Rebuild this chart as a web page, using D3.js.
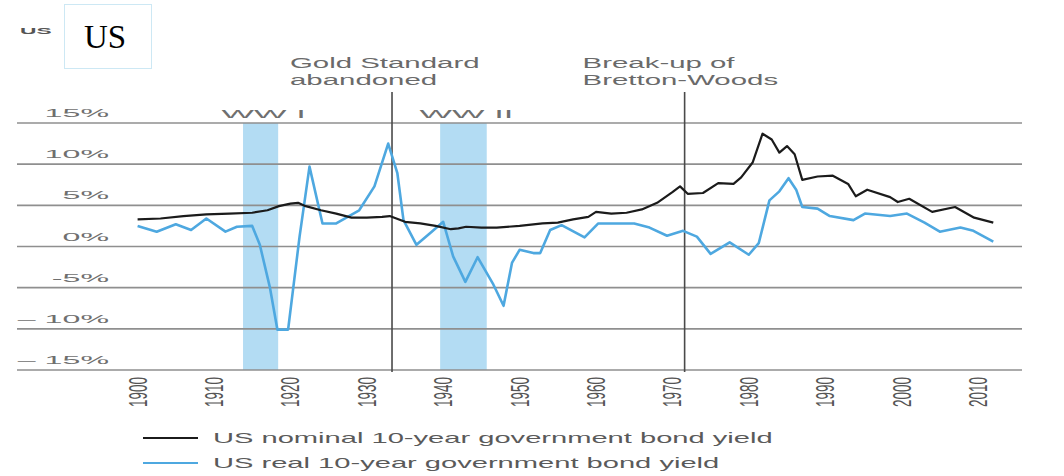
<!DOCTYPE html>
<html>
<head>
<meta charset="utf-8">
<script src="https://cdnjs.cloudflare.com/ajax/libs/d3/7.8.5/d3.min.js"></script>
<style>
  html, body { margin: 0; padding: 0; background: #fff; }
  svg { display: block; }
  text { font-family: "Liberation Sans", Arial, sans-serif; }
</style>
</head>
<body>
<svg id="chart" width="1064" height="476"></svg>
<script>
// ---- data -------------------------------------------------------------
const nominalYears = [1900, 1903, 1906, 1909, 1912, 1915, 1917, 1918.5, 1920, 1921, 1922, 1924, 1926, 1928, 1930, 1932, 1933, 1935, 1937, 1939, 1941, 1942, 1943, 1945, 1947, 1950, 1953, 1955, 1957, 1959, 1960, 1962, 1964, 1966, 1968, 1970, 1971, 1972, 1974, 1976, 1978, 1979, 1980.5, 1981.8, 1983, 1984, 1985, 1986, 1987, 1989, 1991, 1993, 1994, 1995.5, 1998.5, 1999.5, 2001, 2004, 2007, 2009.5, 2012];
const nominalYield = [3.3, 3.4, 3.7, 3.9, 4.0, 4.1, 4.4, 4.9, 5.2, 5.3, 4.9, 4.4, 4.0, 3.5, 3.5, 3.6, 3.7, 3.0, 2.8, 2.5, 2.1, 2.2, 2.4, 2.3, 2.3, 2.5, 2.8, 2.9, 3.3, 3.6, 4.2, 4.0, 4.1, 4.5, 5.3, 6.6, 7.3, 6.4, 6.5, 7.7, 7.6, 8.4, 10.2, 13.7, 13.0, 11.4, 12.2, 11.2, 8.1, 8.5, 8.6, 7.6, 6.1, 6.9, 6.0, 5.4, 5.8, 4.2, 4.8, 3.5, 2.9];

const realYears = [1900, 1902.5, 1905, 1907, 1909, 1911.5, 1913, 1915, 1916, 1917.3, 1918.3, 1919.7, 1921.2, 1922.5, 1924.2, 1926, 1929, 1931, 1932.8, 1934, 1934.8, 1936.5, 1938.5, 1940, 1941.3, 1942.9, 1944.5, 1946.5, 1947.9, 1949, 1950, 1951.8, 1952.7, 1954, 1955.5, 1958.5, 1960.3, 1965, 1967, 1969.3, 1971.4, 1973.2, 1975, 1977.5, 1980, 1981.3, 1982.7, 1984, 1985.2, 1986.2, 1987, 1989, 1990.6, 1993.7, 1995.2, 1998.5, 2000.7, 2003, 2005, 2007.7, 2009.4, 2012];
const realYield = [2.5, 1.8, 2.7, 2.0, 3.4, 1.8, 2.4, 2.5, 0.2, -4.9, -10.1, -10.1, 1.2, 9.7, 2.8, 2.8, 4.4, 7.3, 12.5, 8.9, 3.2, 0.2, 1.8, 3.0, -1.2, -4.3, -1.3, -4.5, -7.2, -2.0, -0.4, -0.8, -0.8, 2.0, 2.6, 1.1, 2.8, 2.8, 2.3, 1.3, 1.9, 1.2, -0.9, 0.5, -1.0, 0.4, 5.6, 6.7, 8.3, 6.9, 4.8, 4.6, 3.7, 3.2, 4.0, 3.7, 4.0, 2.9, 1.8, 2.3, 1.9, 0.6];

const yearTicks = [1900, 1910, 1920, 1930, 1940, 1950, 1960, 1970, 1980, 1990, 2000, 2010];
const pctTicks = [15, 10, 5, 0, -5, -10, -15];
const pctTickLabels = ["15%", "10%", "5%", "0%", "-5%", "\u2013 10%", "\u2013 15%"];

const warNames = ["WW I", "WW II"];
const warStart = [1913.8, 1939.6];
const warEnd = [1918.4, 1945.7];

const eventYears = [1933.3, 1971.6];
const eventLabels = [["Gold Standard", "abandoned"], ["Break-up of", "Bretton-Woods"]];

const seriesNames = ["US nominal 10-year government bond yield", "US real 10-year government bond yield"];
const seriesColors = ["#1b1b1b", "#4ea8e0"];

// ---- layout -----------------------------------------------------------
const svg = d3.select("#chart");
const x = d3.scaleLinear().domain([1900, 2010]).range([137.6, 978]);
const y = d3.scaleLinear().domain([-15, 15]).range([370, 123]);
const gridLeft = 17, gridRight = 1022;

// text that is widened horizontally like the rest of the artwork
function wideText(sel, px, py, str, size, sx, anchor, color, weight) {
  return sel.append("text")
    .attr("transform", `translate(${px},${py}) scale(${sx},1)`)
    .attr("text-anchor", anchor || "start")
    .style("font-size", size + "px")
    .style("font-weight", weight || "normal")
    .attr("fill", color || "#666")
    .text(str);
}

// war shading
const wars = warNames.map((n, i) => ({ name: n, start: warStart[i], end: warEnd[i] }));
svg.append("g").selectAll("rect").data(wars).join("rect")
  .attr("x", d => x(d.start))
  .attr("width", d => x(d.end) - x(d.start))
  .attr("y", y(15))
  .attr("height", y(-15) - y(15))
  .attr("fill", "#b3dcf3");

// horizontal gridlines
svg.append("g").selectAll("line").data(pctTicks).join("line")
  .attr("x1", gridLeft).attr("x2", gridRight)
  .attr("y1", d => y(d)).attr("y2", d => y(d))
  .attr("stroke", "#8f8f8f").attr("stroke-width", 1.6);

// y tick labels
const yl = svg.append("g");
pctTicks.forEach((v, i) => {
  wideText(yl, 109, y(v) - 6, pctTickLabels[i], 11.5, 2.8, "end", "#6f6f6f");
});

// war labels
wars.forEach(d => {
  wideText(svg, (x(d.start) + x(d.end)) / 2 + 3, y(15) - 5, d.name, 11.5, 3.0, "middle", "#6f6f6f");
});

// event markers
eventYears.forEach((yr, i) => {
  svg.append("line")
    .attr("x1", x(yr)).attr("x2", x(yr))
    .attr("y1", 92).attr("y2", y(-15) + 2)
    .attr("stroke", "#4a4a4a").attr("stroke-width", 1.6);
  eventLabels[i].forEach((t, j) => {
    wideText(svg, x(yr) - 102, 68 + j * 17, t, 14, 2.1, "start", "#6a6a6a");
  });
});

// series lines
const line = d3.line().x(d => x(d[0])).y(d => y(d[1])).curve(d3.curveLinear);
const nominal = nominalYears.map((yr, i) => [yr, nominalYield[i]]);
const real = realYears.map((yr, i) => [yr, realYield[i]]);

svg.append("path").datum(real)
  .attr("d", line).attr("fill", "none")
  .attr("stroke", seriesColors[1]).attr("stroke-width", 2.6)
  .attr("stroke-linejoin", "round");
svg.append("path").datum(nominal)
  .attr("d", line).attr("fill", "none")
  .attr("stroke", seriesColors[0]).attr("stroke-width", 2.2)
  .attr("stroke-linejoin", "round");

// year labels, rotated
yearTicks.forEach(yr => {
  svg.append("text")
    .attr("transform", `translate(${x(yr)},392) scale(1.9,1) rotate(-90)`)
    .attr("text-anchor", "middle")
    .attr("dy", "0.35em")
    .style("font-size", "13.5px")
    .attr("fill", "#555")
    .text(yr);
});

// legend
seriesNames.forEach((name, i) => {
  const ly = 438 + i * 25;
  svg.append("line")
    .attr("x1", 143).attr("x2", 198)
    .attr("y1", ly).attr("y2", ly)
    .attr("stroke", seriesColors[i]).attr("stroke-width", 2.2);
  wideText(svg, 213, ly + 5, name, 14, 2.08, "start", "#5a5a5a");
});

// heading
wideText(svg, 20, 34, "US", 9.5, 2.4, "start", "#555", "bold");
svg.append("rect")
  .attr("x", 64.5).attr("y", 4.5).attr("width", 87).attr("height", 64)
  .attr("fill", "#fff").attr("stroke", "#cde8f4");
svg.append("text")
  .attr("x", 84).attr("y", 48)
  .style("font-family", "'Liberation Serif', 'Times New Roman', serif")
  .style("font-size", "33px")
  .attr("fill", "#000")
  .text("US");
</script>
</body>
</html>
